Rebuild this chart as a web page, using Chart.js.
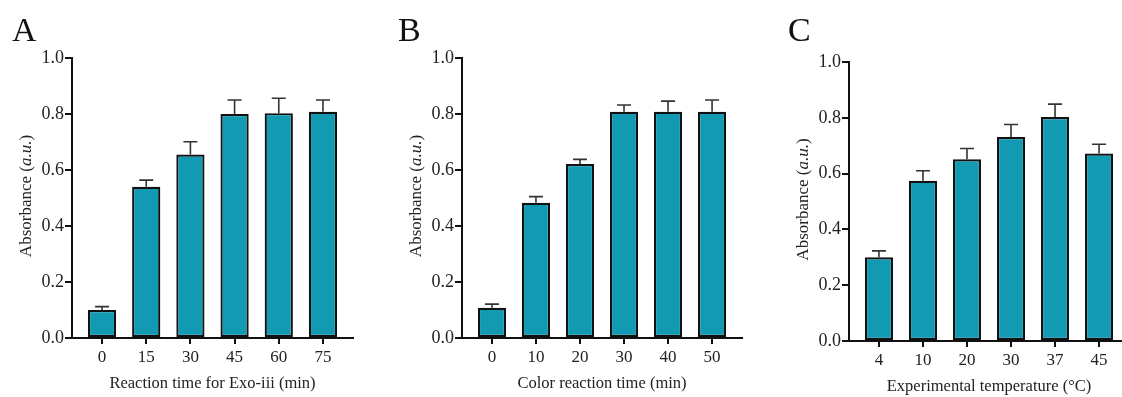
<!DOCTYPE html>
<html>
<head>
<meta charset="utf-8">
<script src="https://cdn.jsdelivr.net/npm/chart.js@4.4.1/dist/chart.umd.min.js"></script>
<style>
    html, body { margin: 0; padding: 0; background: #fff; overflow: hidden; }
    body { width: 1122px; height: 397px; position: relative; }
    canvas { position: absolute; top: 0; }
</style>
</head>
<body>
<canvas id="chartA" width="374" height="397" style="left:0px"></canvas>
<canvas id="chartB" width="370" height="397" style="left:380px"></canvas>
<canvas id="chartC" width="400" height="397" style="left:750px"></canvas>
<script>
// Panel A - Exo-iii reaction time
const labelsA = ['0', '15', '30', '45', '60', '75'];
const valuesA = [0.100, 0.540, 0.655, 0.800, 0.803, 0.808];
const errorsA = [0.012, 0.024, 0.046, 0.050, 0.053, 0.042];

// Panel B - color reaction time
const labelsB = ['0', '10', '20', '30', '40', '50'];
const valuesB = [0.108, 0.483, 0.621, 0.808, 0.808, 0.808];
const errorsB = [0.013, 0.022, 0.017, 0.024, 0.038, 0.042];

// Panel C - temperature
const labelsC = ['4', '10', '20', '30', '37', '45'];
const valuesC = [0.300, 0.574, 0.651, 0.731, 0.803, 0.672];
const errorsC = [0.023, 0.036, 0.039, 0.045, 0.046, 0.033];

const yTicks = [0, 0.2, 0.4, 0.6, 0.8, 1.0];

const SERIF = "'Liberation Serif', 'Times New Roman', serif";
const BAR_COLOR = '#139ab3';
const AXIS_COLOR = '#111';

// error bars (upper only, like GraphPad)
const errorBarPlugin = {
    id: 'errorBars',
    afterDatasetsDraw(chart) {
        const errs = chart.options.plugins.errorBars.errors;
        const vals = chart.data.datasets[0].data;
        const meta = chart.getDatasetMeta(0);
        const y = chart.scales.y;
        const ctx = chart.ctx;
        ctx.save();
        ctx.strokeStyle = '#333';
        ctx.lineWidth = 1.6;
        meta.data.forEach((bar, i) => {
            const top = y.getPixelForValue(vals[i].y + errs[i]);
            const base = y.getPixelForValue(vals[i].y);
            ctx.beginPath();
            ctx.moveTo(bar.x, base);
            ctx.lineTo(bar.x, top);
            ctx.moveTo(bar.x - 7, top);
            ctx.lineTo(bar.x + 7, top);
            ctx.stroke();
        });
        ctx.restore();
    }
};

// panel letter + axis titles (y title has italic a.u.)
const textPlugin = {
    id: 'panelText',
    afterDraw(chart) {
        const o = chart.options.plugins.panelText;
        const ctx = chart.ctx;
        const area = chart.chartArea;
        ctx.save();
        ctx.fillStyle = '#111';
        ctx.textBaseline = 'alphabetic';
        ctx.font = '34px ' + SERIF;
        ctx.fillText(o.letter, o.letterX, 41);

        ctx.fillStyle = '#222';
        ctx.font = '16.5px ' + SERIF;
        ctx.textAlign = 'center';
        ctx.textBaseline = 'middle';
        ctx.fillText(o.xTitle, (area.left + area.right) / 2, area.bottom + 46);

        // rotated y title
        const parts = [['Absorbance (', ''], ['a.u.', 'italic '], [')', '']];
        ctx.translate(area.left - 45, (area.top + area.bottom) / 2 - 2);
        ctx.rotate(-Math.PI / 2);
        ctx.textAlign = 'left';
        let total = 0;
        parts.forEach(p => { ctx.font = p[1] + '17px ' + SERIF; total += ctx.measureText(p[0]).width; });
        let x = -total / 2;
        parts.forEach(p => {
            ctx.font = p[1] + '17px ' + SERIF;
            ctx.fillText(p[0], x, 0);
            x += ctx.measureText(p[0]).width;
        });
        ctx.restore();
    }
};

function makePanel(id, labels, values, errors, cfg) {
    const points = values.map((v, i) => ({ x: i, y: v }));
    return new Chart(document.getElementById(id), {
        type: 'bar',
        data: {
            datasets: [{
                data: points,
                backgroundColor: BAR_COLOR,
                borderColor: AXIS_COLOR,
                borderWidth: 2.2,
                borderSkipped: false,
                barPercentage: 0.9,
                categoryPercentage: 0.71
            }]
        },
        options: {
            responsive: false,
            animation: false,
            layout: { padding: { left: 0, top: cfg.top, right: cfg.right, bottom: 0 } },
            plugins: {
                legend: { display: false },
                tooltip: { enabled: false },
                errorBars: { errors: errors },
                panelText: { letter: cfg.letter, letterX: cfg.letterX, xTitle: cfg.xTitle }
            },
            scales: {
                x: {
                    type: 'linear',
                    min: -0.68,
                    max: labels.length - 1 + 0.68,
                    offset: false,
                    afterFit: s => { s.height = 397 - cfg.bottom; },
                    afterBuildTicks: s => { s.ticks = labels.map((_, i) => ({ value: i })); },
                    grid: { drawOnChartArea: false, offset: false, color: AXIS_COLOR, lineWidth: 2, tickLength: 6 },
                    border: { color: AXIS_COLOR, width: 2 },
                    ticks: {
                        autoSkip: false,
                        maxRotation: 0,
                        padding: 3,
                        color: '#222',
                        font: { family: SERIF, size: 17 },
                        callback: v => labels[v]
                    }
                },
                y: {
                    min: 0,
                    max: 1.0,
                    afterFit: s => { s.width = cfg.left; },
                    afterBuildTicks: s => { s.ticks = yTicks.map(v => ({ value: v })); },
                    grid: { drawOnChartArea: false, color: AXIS_COLOR, lineWidth: 2, tickLength: 7 },
                    border: { color: AXIS_COLOR, width: 2 },
                    ticks: {
                        padding: 1,
                        color: '#222',
                        font: { family: SERIF, size: 18 },
                        callback: v => v.toFixed(1)
                    }
                }
            }
        },
        plugins: [errorBarPlugin, textPlugin]
    });
}

makePanel('chartA', labelsA, valuesA, errorsA,
    { left: 72, top: 58, bottom: 338, right: 21, letter: 'A', letterX: 12, xTitle: 'Reaction time for Exo-iii (min)' });
makePanel('chartB', labelsB, valuesB, errorsB,
    { left: 82, top: 58, bottom: 338, right: 8, letter: 'B', letterX: 18, xTitle: 'Color reaction time (min)' });
makePanel('chartC', labelsC, valuesC, errorsC,
    { left: 99, top: 62, bottom: 341, right: 21, letter: 'C', letterX: 38, xTitle: 'Experimental temperature (\u00B0C)' });
</script>
</body>
</html>
